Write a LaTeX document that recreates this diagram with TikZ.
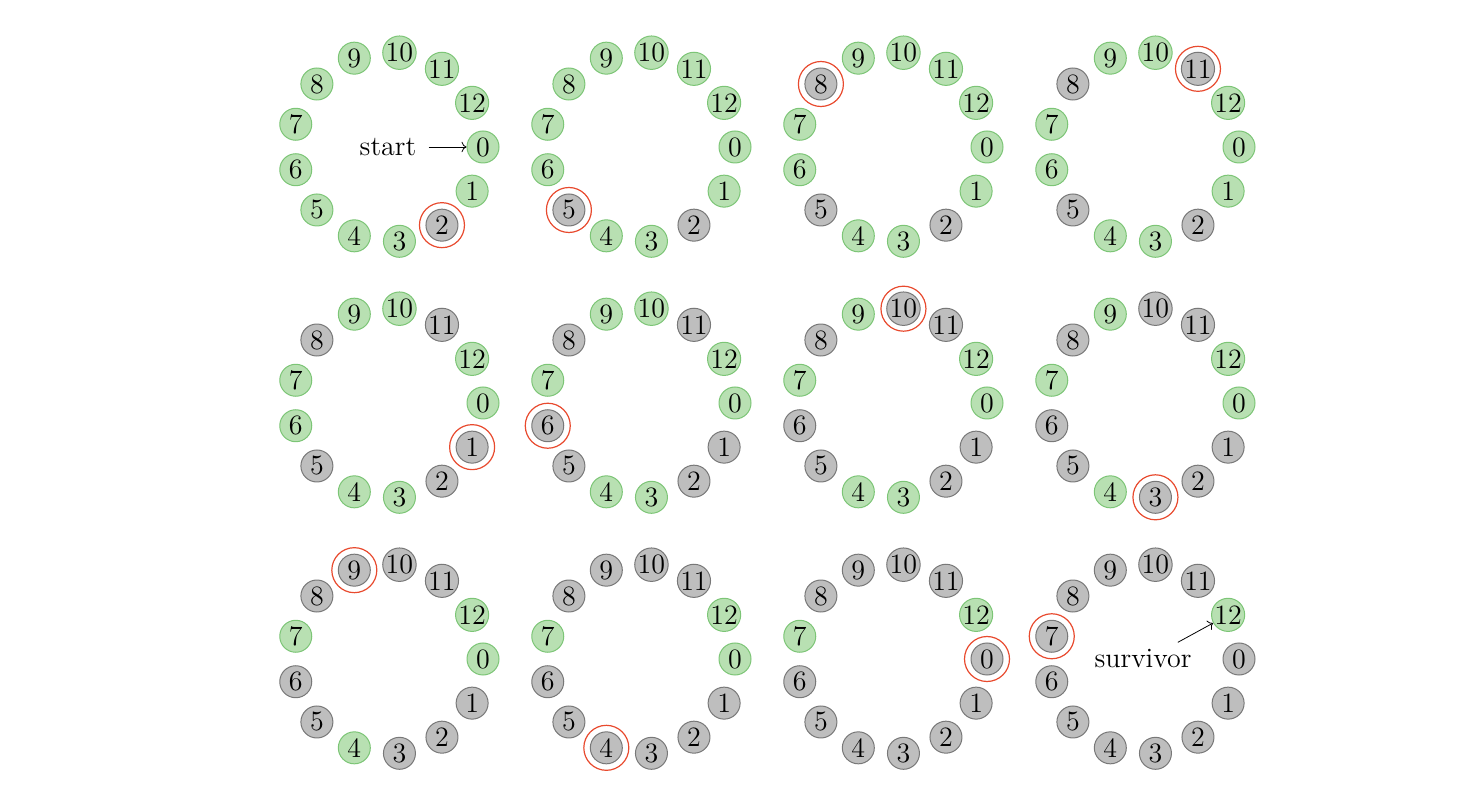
\documentclass[tikz,border=0pt]{standalone}
\usepackage{xcolor}
\usepackage{tikz}
\usetikzlibrary{calc, arrows.meta, positioning}

\definecolor{alivefill}{RGB}{184,224,178}
\definecolor{alivedraw}{RGB}{124,197,118}
\definecolor{deadfill}{RGB}{190,190,190}
\definecolor{deaddraw}{RGB}{120,120,120}
\definecolor{pickred}{RGB}{232,74,46}

\begin{document}
\begin{tikzpicture}[
            x=0.5pt, y=-0.5pt,
            every node/.style={font=\fontsize{14}{16}\selectfont},
            alive/.style={circle, draw=alivedraw, fill=alivefill, line width=0.5pt, minimum size=16pt, inner sep=0pt},
            dead/.style={circle, draw=deaddraw, fill=deadfill, line width=0.5pt, minimum size=16pt, inner sep=0pt},
            pick/.style={circle, draw=pickred, line width=0.6pt, minimum size=22.5pt, inner sep=0pt},
            label/.style={inner sep=3pt}
        ]

        \useasboundingbox (0,0) rectangle (1478,806);

        % Panels: 13 people, every third one leaves
        \foreach \row in {0,1,2}{
          \foreach \col in {0,1,2,3}{
            \pgfmathtruncatemacro{\stage}{4*\row+\col+1}
            \coordinate (c\stage) at ({388+252*\col},{147+256*\row});
            \foreach \i in {0,...,12}{
              \pgfmathtruncatemacro{\gone}{{11,5,1,8,10,2,6,12,3,9,7,4,13}[\i]}
              \ifnum\gone>\stage \def\look{alive}\else\def\look{dead}\fi
              \node[\look] (p\stage-\i) at ($(c\stage)+(\i*360/13:95)$) {\i};
              \ifnum\gone=\stage \node[pick] (r\stage) at (p\stage-\i) {}; \fi
            }
          }
        }

        % Labels
        \node[label] (start) at (388,147) {start};
        \node[label] (surv) at (1143,658) {survivor};

        \draw[->, shorten <=3pt] (start) -- (p1-0);
        \draw[->] ([xshift=-10pt]surv.north east) -- (p12-12);

    \end{tikzpicture}
\end{document}
